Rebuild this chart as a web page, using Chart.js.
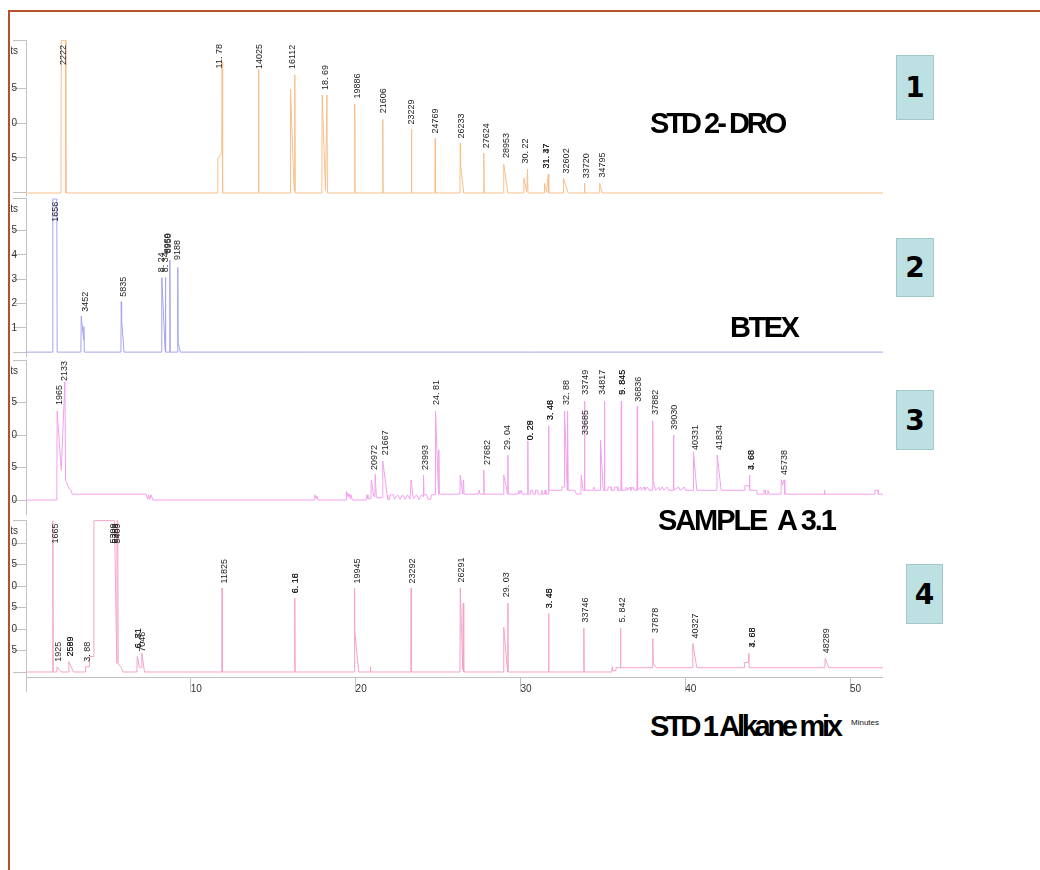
<!DOCTYPE html>
<html>
<head>
<meta charset="utf-8">
<title>GC-FID chromatograms</title>
<script src="https://cdn.jsdelivr.net/npm/chart.js@4.4.1/dist/chart.umd.min.js"></script>
<style>
  html, body { margin: 0; padding: 0; background: #ffffff; }
  body { position: relative; width: 1040px; height: 870px; overflow: hidden;
         font-family: "Liberation Sans", Arial, sans-serif; }
  #plots { position: absolute; left: 11px; top: 0; width: 1029px; height: 870px; overflow: hidden; }
  #plots canvas { position: absolute; left: -41px; }
  .frame { position: absolute; background: #b5502a; z-index: 5; }
  .title { position: absolute; font-weight: bold; font-size: 29px; line-height: 29px;
           color: #000; white-space: nowrap; }
  .unit { position: absolute; font-size: 8px; line-height: 8px; color: #111; white-space: nowrap; }
  .badge { position: absolute; background: #bde0e2; border: 1px solid #a3c6c9; box-sizing: border-box;
           display: flex; align-items: center; justify-content: center;
           font-family: "DejaVu Sans", Verdana, sans-serif; font-weight: bold; font-size: 28px; color: #000; }
</style>
</head>
<body>
<div id="plots">
  <canvas id="dro" width="913" height="176" style="top:30px"></canvas>
  <canvas id="btex" width="913" height="178" style="top:188px"></canvas>
  <canvas id="sample" width="913" height="174" style="top:350px"></canvas>
  <canvas id="alkane" width="913" height="197" style="top:510px"></canvas>
</div>

<div class="frame" style="left:8px; top:10px; width:1032px; height:2px;"></div>
<div class="frame" style="left:8px; top:10px; width:2px; height:860px;"></div>

<div class="title" style="left:650px; top:109px; letter-spacing:-3px;">STD 2- DRO</div>
<div class="title" style="left:730px; top:313px; letter-spacing:-2.5px;">BTEX</div>
<div class="title" style="left:658px; top:506px; letter-spacing:-2.1px;">SAMPLE&nbsp; A 3.1</div>
<div class="title" style="left:650px; top:712px; letter-spacing:-3.3px;">STD 1 Alkane mix</div>
<div class="unit" style="left:851px; top:719px;">Minutes</div>

<div class="badge" style="left:896px; top:55px; width:38px; height:65px;">1</div>
<div class="badge" style="left:896px; top:238px; width:38px; height:59px;">2</div>
<div class="badge" style="left:896px; top:390px; width:38px; height:60px;">3</div>
<div class="badge" style="left:906px; top:564px; width:37px; height:60px;">4</div>

<script>
// ---- retention-time axis (minutes) ----
const timeRange = [0, 52];
const timeTicks = [0, 10, 20, 30, 40, 50];
const timeTickLabels = ['', '10', '20', '30', '40', '50'];

// ---- trace 1: STD 2 - DRO, [minutes, signal] ----
const droTrace = [
  [0, 0], [2.12, 0], [2.14, 21.8], [2.40, 21.8], [2.42, 0],
  [11.62, 0], [11.64, 4.95], [11.88, 5.67], [11.90, 18.7], [11.93, 0],
  [14.09, 0], [14.11, 17.7], [14.13, 0],
  [16.03, 0], [16.05, 14.8], [16.27, 0.3], [16.31, 16.9], [16.34, 0],
  [17.95, 0], [17.97, 14.0], [18.17, 0.4], [18.26, 14.0], [18.29, 0],
  [19.93, 0], [19.95, 12.7], [19.97, 0],
  [21.63, 0], [21.65, 10.5], [21.67, 0],
  [23.37, 0], [23.39, 9.1], [23.41, 0],
  [24.81, 0], [24.83, 7.8], [24.85, 0],
  [26.33, 0], [26.35, 7.1], [26.37, 4.0], [26.56, 0],
  [27.76, 0], [27.78, 5.7], [27.80, 0],
  [28.97, 0], [28.99, 4.1], [29.24, 0],
  [30.19, 0], [30.21, 2.1], [30.38, 0.2], [30.43, 3.4], [30.46, 0],
  [31.44, 0], [31.46, 1.4], [31.60, 0.1], [31.69, 2.7], [31.72, 0],
  [32.59, 0], [32.61, 2.1], [32.90, 0],
  [33.87, 0], [33.89, 1.4], [33.91, 0],
  [34.77, 0], [34.81, 1.4], [34.86, 0.9], [34.97, 0],
  [52, 0]
];
// [label, minutes, signal level where the label starts]
const droPeaks = [
  ['2222', 2.26, 18.3], ['11. 78', 11.76, 17.8], ['14025', 14.15, 17.7], ['16112', 16.17, 17.7],
  ['18. 69', 18.15, 14.7], ['19886', 20.10, 13.5], ['21606', 21.69, 11.4], ['23229', 23.39, 9.8],
  ['24769', 24.85, 8.5], ['26233', 26.41, 7.8], ['27624', 27.96, 6.4], ['28953', 29.14, 5.0],
  ['30. 22', 30.31, 4.2], ['31. 37', 31.60, 3.5], ['31. 47', 31.60, 3.5], ['32602', 32.78, 2.8],
  ['33720', 33.99, 2.1], ['34795', 35.00, 2.2]
];
const droSignalTicks = [0, 5, 10, 15, 21.86];
const droSignalTickLabels = ['', '5', '10', '15', ''];

// ---- trace 2: BTEX ----
const btexTrace = [
  [0, 0], [1.61, 0], [1.63, 6.3], [1.87, 6.3], [1.89, 0],
  [3.33, 0], [3.35, 1.48], [3.50, 0.5], [3.51, 1.05], [3.54, 0],
  [5.76, 0], [5.78, 2.07], [5.80, 1.35], [5.95, 0],
  [8.22, 0], [8.24, 3.07], [8.44, 0.1], [8.46, 3.07], [8.48, 0],
  [8.71, 0], [8.73, 3.79], [8.75, 0],
  [9.19, 0], [9.21, 3.48], [9.23, 0.4], [9.30, 0.2], [9.36, 0],
  [52, 0]
];
const btexPeaks = [
  ['1656', 1.79, 5.36], ['3452', 3.61, 1.66], ['5835', 5.92, 2.28],
  ['8. 24', 8.24, 3.29], ['8. 34', 8.46, 3.29], ['8959', 8.61, 4.07], ['8950', 8.64, 4.07],
  ['9188', 9.21, 3.79]
];
const btexSignalTicks = [0, 1, 2, 3, 4, 5, 6.34];
const btexSignalTickLabels = ['', '1', '2', '3', '4', '5', ''];

// ---- trace 3: SAMPLE A 3.1 ----
const sampleTrace = [
  [0, 0], [1.87, 0], [1.89, 13.7], [2.14, 4.6], [2.36, 18.2], [2.40, 3.0], [2.50, 2.5],
  [2.60, 1.8], [2.75, 1.5], [2.80, 0.9],
  [7.29, 0.9], [7.38, 0.1], [7.45, 0.8], [7.52, 0.1], [7.59, 0.8], [7.70, 0],
  [17.50, 0], [17.52, 0.8], [17.62, 0.2], [17.64, 0.6], [17.72, 0],
  [19.43, 0], [19.45, 1.3], [19.55, 0.5], [19.60, 1.0], [19.68, 0.2], [19.72, 0.8], [19.80, 0],
  [20.64, 0], [20.70, 0.8], [20.75, 0.2], [20.93, 0.2], [20.95, 3.1], [21.10, 0.6],
  [21.17, 0.5], [21.19, 3.95], [21.25, 0.8], [21.30, 0.3],
  [21.63, 0.4], [21.65, 6.0], [21.91, 0.8], [21.95, 0.1], [22.05, 0.1], [22.10, 0.8], [22.30, 0.8],
  [22.35, 0.1], [22.55, 0.8], [22.70, 0.1], [22.85, 0.8], [23.00, 0.1], [23.15, 0.8], [23.30, 0.1],
  [23.35, 0.1], [23.37, 3.1], [23.50, 0.2], [23.70, 0.8], [23.85, 0.1], [24.00, 0.8],
  [24.10, 0.5], [24.12, 3.85], [24.15, 0.8], [24.30, 0.8], [24.40, 0.1], [24.55, 0.1], [24.60, 0.8],
  [24.83, 0.8], [24.85, 13.7], [25.03, 0.9], [25.05, 7.7], [25.08, 0.9],
  [26.33, 0.9], [26.35, 3.85], [26.50, 0.9], [26.55, 3.1], [26.58, 0.9],
  [27.45, 0.9], [27.50, 1.5], [27.55, 0.9], [27.76, 0.9], [27.78, 4.6], [27.80, 0.9],
  [28.97, 0.9], [28.99, 3.85], [29.22, 0.9], [29.24, 6.9], [29.26, 0.9],
  [29.85, 0.9], [29.90, 1.5], [29.95, 0.9], [30.05, 1.5], [30.10, 0.9],
  [30.43, 0.9], [30.45, 9.1], [30.47, 0.9],
  [30.60, 0.9], [30.62, 1.5], [30.75, 1.5], [30.77, 0.9], [30.90, 0.9], [30.92, 1.5], [31.05, 1.5],
  [31.07, 0.9], [31.25, 0.9], [31.30, 1.5], [31.35, 0.9], [31.45, 0.9], [31.50, 1.5], [31.55, 0.9],
  [31.69, 0.9], [31.71, 11.4], [31.73, 1.5],
  [32.50, 1.5], [32.52, 2.0], [32.66, 2.0], [32.68, 13.7], [32.84, 1.5], [32.86, 13.7], [32.90, 1.5],
  [33.30, 1.5], [33.40, 0.9], [33.55, 0.9], [33.67, 0.9], [33.69, 3.85], [33.80, 1.5],
  [33.87, 1.5], [33.89, 15.2], [33.91, 1.5],
  [34.40, 1.5], [34.45, 2.0], [34.50, 1.5],
  [34.84, 1.5], [34.86, 9.2], [35.02, 1.5], [35.08, 1.5], [35.10, 15.2], [35.12, 1.5],
  [35.30, 1.5], [35.32, 2.0], [35.50, 2.0], [35.52, 1.5], [35.70, 1.5], [35.72, 2.0], [35.90, 2.0], [35.92, 1.5],
  [36.10, 1.5], [36.12, 15.2], [36.14, 1.5],
  [36.40, 1.5], [36.45, 2.0], [36.50, 1.5], [36.65, 2.0], [36.70, 1.5], [36.85, 2.0], [36.90, 1.5],
  [37.07, 1.5], [37.09, 14.4], [37.11, 1.5],
  [37.30, 2.0], [37.35, 1.5], [37.50, 2.0], [37.55, 1.5], [37.70, 2.0], [37.80, 1.5],
  [38.01, 1.5], [38.03, 12.2], [38.05, 3.0], [38.20, 1.5],
  [38.40, 2.0], [38.45, 1.5], [38.60, 2.0], [38.70, 1.5], [38.90, 2.0], [39.00, 1.5],
  [39.27, 1.5], [39.29, 10.0], [39.31, 1.5],
  [39.60, 2.0], [39.70, 1.5], [39.95, 2.0], [40.00, 1.5],
  [40.48, 1.5], [40.50, 7.4], [40.70, 1.5],
  [41.92, 1.5], [41.94, 6.9], [42.18, 1.5],
  [43.60, 1.5], [43.62, 2.2], [43.88, 2.2], [43.90, 3.85], [43.92, 1.5],
  [44.35, 1.5], [44.37, 0.9], [44.75, 0.9], [44.77, 1.5], [44.85, 1.5], [44.87, 0.9],
  [45.00, 0.9], [45.02, 1.5], [45.10, 0.9],
  [45.81, 0.9], [45.83, 3.1], [45.90, 2.3], [46.00, 3.1], [46.04, 0.9],
  [48.43, 0.9], [48.45, 1.5], [48.47, 0.9],
  [51.49, 0.9], [51.51, 1.5], [51.70, 1.5], [51.72, 0.9], [52, 0.9]
];
const samplePeaks = [
  ['1965', 2.03, 14.6], ['2133', 2.34, 18.3], ['20972', 21.13, 4.6], ['21667', 21.80, 6.9],
  ['23993', 24.24, 4.6], ['24. 81', 24.91, 14.6], ['27682', 27.98, 5.4], ['29. 04', 29.20, 7.7],
  ['0. 28', 30.59, 9.2], ['0. 29', 30.59, 9.2], ['3. 46', 31.83, 12.3], ['3. 48', 31.83, 12.3],
  ['32. 88', 32.80, 14.6], ['33749', 33.97, 16.2], ['33685', 33.97, 10.0], ['34817', 34.98, 16.2],
  ['5. 845', 36.20, 16.2], ['9. 845', 36.20, 16.2], ['36836', 37.19, 15.1], ['37882', 38.22, 13.1],
  ['39030', 39.35, 10.8], ['40331', 40.64, 7.7], ['41834', 42.10, 7.7],
  ['3. 68', 44.02, 4.6], ['4. 68', 44.02, 4.6], ['45738', 46.04, 3.85]
];
const sampleSignalTicks = [0, 5, 10, 15, 21.54];
const sampleSignalTickLabels = ['0', '5', '10', '15', ''];

// ---- trace 4: STD 1 Alkane mix ----
const alkaneTrace = [
  [0, 0], [1.62, 0], [1.63, 35.2], [1.65, 0],
  [1.87, 0], [1.89, 1.2], [2.14, 0],
  [2.58, 0], [2.60, 2.4], [2.88, 0],
  [3.60, 0], [3.61, 1.2], [3.84, 1.2], [3.85, 3.6], [4.11, 3.6], [4.12, 35.2], [5.37, 35.2],
  [5.51, 2.0], [5.52, 35.2], [5.57, 35.2], [5.59, 2.0], [5.78, 1.0], [5.88, 0],
  [6.73, 0], [6.75, 3.6], [6.89, 1.0], [7.01, 1.0], [7.03, 4.35], [7.19, 0],
  [11.88, 0], [11.90, 19.5], [11.92, 0],
  [16.29, 0], [16.31, 17.1], [16.33, 0],
  [19.91, 0], [19.93, 19.5], [19.95, 9.7], [20.19, 0],
  [20.88, 0], [20.90, 1.2], [20.92, 0],
  [23.35, 0], [23.37, 19.5], [23.39, 0],
  [26.33, 0], [26.35, 19.5], [26.50, 0.5], [26.53, 16.0], [26.56, 0],
  [28.97, 0], [28.99, 10.4], [29.22, 0], [29.24, 16.0], [29.26, 0],
  [31.69, 0], [31.71, 13.6], [31.73, 0],
  [33.83, 0], [33.85, 10.2], [33.87, 0],
  [35.55, 0], [35.57, 1.2], [35.59, 0.3], [35.79, 0.3], [35.81, 1.0],
  [36.05, 1.0], [36.07, 10.2], [36.09, 1.0],
  [38.01, 1.0], [38.03, 7.8], [38.06, 2.0], [38.27, 1.0],
  [40.44, 1.0], [40.46, 6.7], [40.70, 1.0],
  [43.58, 1.0], [43.60, 2.2], [43.84, 2.2], [43.86, 4.35], [43.88, 1.0],
  [48.47, 1.0], [48.49, 3.2], [48.71, 1.0],
  [52, 1.0]
];
const alkanePeaks = [
  ['1665', 1.79, 29.9], ['1925', 1.99, 2.4], ['2589', 2.72, 3.6], ['2599', 2.72, 3.6],
  ['3. 88', 3.75, 2.4], ['5309', 5.29, 29.9], ['5369', 5.43, 29.9], ['5409', 5.57, 29.9],
  ['6. 71', 6.81, 5.5], ['6. 81', 6.81, 5.5], ['7046', 7.05, 4.7], ['11825', 12.05, 20.6],
  ['6. 16', 16.33, 18.3], ['6. 18', 16.33, 18.3], ['19945', 20.13, 20.6], ['23292', 23.47, 20.6],
  ['26291', 26.41, 20.8], ['29. 03', 29.14, 17.4], ['3. 45', 31.78, 14.8], ['3. 48', 31.78, 14.8],
  ['33746', 33.95, 11.5], ['5. 842', 36.20, 11.5], ['37878', 38.18, 9.1], ['40327', 40.60, 7.8],
  ['3. 68', 44.08, 5.7], ['4. 68', 44.08, 5.7], ['48289', 48.56, 4.35]
];
const alkaneSignalTicks = [0, 5, 10, 15, 20, 25, 30, 35.35];
const alkaneSignalTickLabels = ['', '5', '10', '15', '20', '25', '30', ''];

const signalUnit = 'mVolts';

// Rotated retention-time labels above each peak, plus the signal unit caption.
function peakLabelPlugin(peaks) {
  return {
    id: 'peakLabels',
    afterDatasetsDraw(chart) {
      const { ctx, chartArea } = chart;
      const xs = chart.scales.x, ys = chart.scales.y;
      ctx.save();
      ctx.font = '9px "Liberation Sans", Arial, sans-serif';
      ctx.fillStyle = '#1c1c1c';
      ctx.textAlign = 'left';
      ctx.textBaseline = 'middle';
      for (const [text, t, level] of peaks) {
        ctx.save();
        ctx.translate(xs.getPixelForValue(t), ys.getPixelForValue(level));
        ctx.rotate(-Math.PI / 2);
        ctx.fillText(text, 0, 0);
        ctx.restore();
      }
      ctx.font = '10px "Liberation Sans", Arial, sans-serif';
      ctx.fillStyle = '#333';
      ctx.textAlign = 'right';
      ctx.fillText(signalUnit, chartArea.left - 8, chartArea.top + 11);
      ctx.restore();
    }
  };
}

function drawPanel(id, cfg) {
  const axisGrey = '#c2c2c2';
  return new Chart(document.getElementById(id), {
    type: 'line',
    data: {
      datasets: [{
        data: cfg.trace.map(([t, v]) => ({ x: t, y: v })),
        borderColor: cfg.color,
        borderWidth: 1,
        pointRadius: 0,
        tension: 0,
        fill: false
      }]
    },
    options: {
      responsive: false,
      animation: false,
      devicePixelRatio: 1,
      events: [],
      layout: { padding: { top: 10, bottom: cfg.showTime ? 0 : 10, left: 0, right: 0 } },
      plugins: { legend: { display: false }, tooltip: { enabled: false } },
      scales: {
        x: {
          type: 'linear',
          min: timeRange[0],
          max: timeRange[1],
          display: cfg.showTime,
          afterBuildTicks: s => { s.ticks = timeTicks.map(v => ({ value: v })); },
          afterFit: s => { if (cfg.showTime) s.height = 30; },
          grid: { drawOnChartArea: false, drawTicks: true, tickLength: 15, color: axisGrey },
          border: { color: axisGrey },
          ticks: {
            align: 'start', padding: -9, maxRotation: 0, autoSkip: false,
            color: '#333', font: { size: 10, family: '"Liberation Sans", Arial, sans-serif' },
            callback: (v, i) => timeTickLabels[i]
          }
        },
        y: {
          type: 'linear',
          min: cfg.range[0],
          max: cfg.range[1],
          afterBuildTicks: s => { s.ticks = cfg.ticks.map(v => ({ value: v })); },
          afterFit: s => { s.width = 56; },
          grid: { drawOnChartArea: false, drawTicks: true, tickLength: 13, color: axisGrey },
          border: { color: axisGrey },
          ticks: {
            padding: -4, autoSkip: false,
            color: '#333', font: { size: 10, family: '"Liberation Sans", Arial, sans-serif' },
            callback: (v, i) => cfg.tickLabels[i]
          }
        }
      }
    },
    plugins: [peakLabelPlugin(cfg.peaks)]
  });
}

drawPanel('dro', {
  trace: droTrace, peaks: droPeaks, color: '#f7c08c',
  range: [-0.43, 21.86], ticks: droSignalTicks, tickLabels: droSignalTickLabels, showTime: false
});
drawPanel('btex', {
  trace: btexTrace, peaks: btexPeaks, color: '#a4a4f0',
  range: [-0.16, 6.34], ticks: btexSignalTicks, tickLabels: btexSignalTickLabels, showTime: false
});
drawPanel('sample', {
  trace: sampleTrace, peaks: samplePeaks, color: '#f3a0ee',
  range: [-2.15, 21.54], ticks: sampleSignalTicks, tickLabels: sampleSignalTickLabels, showTime: false
});
drawPanel('alkane', {
  trace: alkaneTrace, peaks: alkanePeaks, color: '#f5a3c8',
  range: [-1.16, 35.35], ticks: alkaneSignalTicks, tickLabels: alkaneSignalTickLabels, showTime: true
});
</script>
</body>
</html>
